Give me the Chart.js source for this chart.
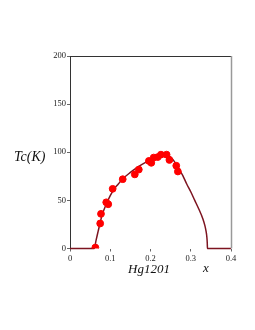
<!DOCTYPE html>
<html>
<head>
<meta charset="utf-8">
<script src="https://cdn.jsdelivr.net/npm/chart.js@4"></script>
<style>
  html, body { margin: 0; padding: 0; background: #fff; }
  #wrap { width: 255px; height: 330px; }
</style>
</head>
<body>
<div id="wrap"><canvas id="tcChart" width="255" height="330"></canvas></div>
<script>
// measured Tc points (red dots)
const dopingPts = [0.063, 0.075, 0.077, 0.090, 0.095, 0.106, 0.131, 0.161, 0.171, 0.196, 0.202, 0.208, 0.218, 0.226, 0.240, 0.247, 0.264, 0.268];
const tcPts = [1, 26, 36, 48, 46, 62, 72, 77, 82, 91, 89, 94.5, 95, 97.5, 97.5, 92, 86, 80];

// fitted dome (dark red line)
const curveX = [0, 0.06, 0.065, 0.07, 0.075, 0.08, 0.09, 0.1, 0.11, 0.12, 0.13, 0.15, 0.17, 0.19, 0.21, 0.23, 0.24, 0.25, 0.26, 0.27, 0.28, 0.29, 0.30, 0.31, 0.32, 0.33, 0.335, 0.338, 0.340, 0.341, 0.3415, 0.4];
const curveTc = [0, 0, 9, 18, 27, 35, 46, 55, 62, 67, 72, 79, 85, 90, 94, 96.5, 97, 95, 90, 83, 76, 67, 59, 50, 41, 31, 24, 18, 12, 6, 0, 0];

const xTicks = [0, 0.1, 0.2, 0.3, 0.4];
const yTicks = [0, 50, 100, 150, 200];

const serif = '"Liberation Serif", "DejaVu Serif", serif';

const zip = (xs, ys) => xs.map((x, i) => ({ x, y: ys[i] }));

// frame + free-standing labels
const frameAndLabels = {
  id: 'frameAndLabels',
  afterDatasetsDraw(chart) {
    const { ctx, chartArea: a } = chart;
    ctx.save();
    ctx.strokeStyle = '#333';
    ctx.lineWidth = 1;
    ctx.beginPath();
    ctx.moveTo(a.left, a.top + 0.5);
    ctx.lineTo(a.right, a.top + 0.5);
    ctx.stroke();
    ctx.strokeStyle = '#999';
    ctx.lineWidth = 1.5;
    ctx.beginPath();
    ctx.moveTo(a.right + 0.5, a.top);
    ctx.lineTo(a.right + 0.5, a.bottom);
    ctx.stroke();

    ctx.fillStyle = '#111';
    ctx.textBaseline = 'middle';
    ctx.font = 'italic 14px ' + serif;
    ctx.textAlign = 'left';
    ctx.fillText('Tc(K)', 14, 157);
    ctx.font = 'italic 13px ' + serif;
    ctx.textAlign = 'center';
    ctx.fillText('Hg1201', 149, 270);
    ctx.fillText('x', 206, 269);
    ctx.restore();
  }
};

new Chart(document.getElementById('tcChart').getContext('2d'), {
  data: {
    datasets: [
      {
        type: 'scatter',
        label: 'data',
        data: zip(dopingPts, tcPts),
        backgroundColor: '#ff0000',
        borderColor: '#ff0000',
        pointRadius: 3.4,
        pointHoverRadius: 3.4,
        order: 0
      },
      {
        type: 'line',
        label: 'fit',
        data: zip(curveX, curveTc),
        borderColor: '#7d1420',
        borderWidth: 1.5,
        pointRadius: 0,
        cubicInterpolationMode: 'monotone',
        fill: false,
        clip: 4,
        order: 1
      }
    ]
  },
  options: {
    responsive: false,
    animation: false,
    events: [],
    layout: { padding: { left: 0, right: 24, top: 56, bottom: 61.5 } },
    plugins: {
      legend: { display: false },
      tooltip: { enabled: false }
    },
    scales: {
      x: {
        type: 'linear',
        min: 0,
        max: 0.4,
        afterBuildTicks: s => { s.ticks = xTicks.map(v => ({ value: v })); },
        afterFit: s => { s.height = 20; },
        ticks: {
          font: { family: serif, size: 8.5 },
          color: '#222',
          padding: 2,
          maxRotation: 0,
          callback: v => String(v)
        },
        grid: { drawOnChartArea: false, tickLength: 3, color: '#666' },
        border: { display: false }
      },
      y: {
        type: 'linear',
        min: 0,
        max: 200,
        afterBuildTicks: s => { s.ticks = yTicks.map(v => ({ value: v })); },
        afterFit: s => { s.width = 70; },
        ticks: {
          font: { family: serif, size: 8.5 },
          color: '#222',
          padding: 1
        },
        grid: { drawOnChartArea: false, tickLength: 3, color: '#666' },
        border: { display: true, color: '#333', width: 1 }
      }
    }
  },
  plugins: [frameAndLabels]
});
</script>
</body>
</html>
